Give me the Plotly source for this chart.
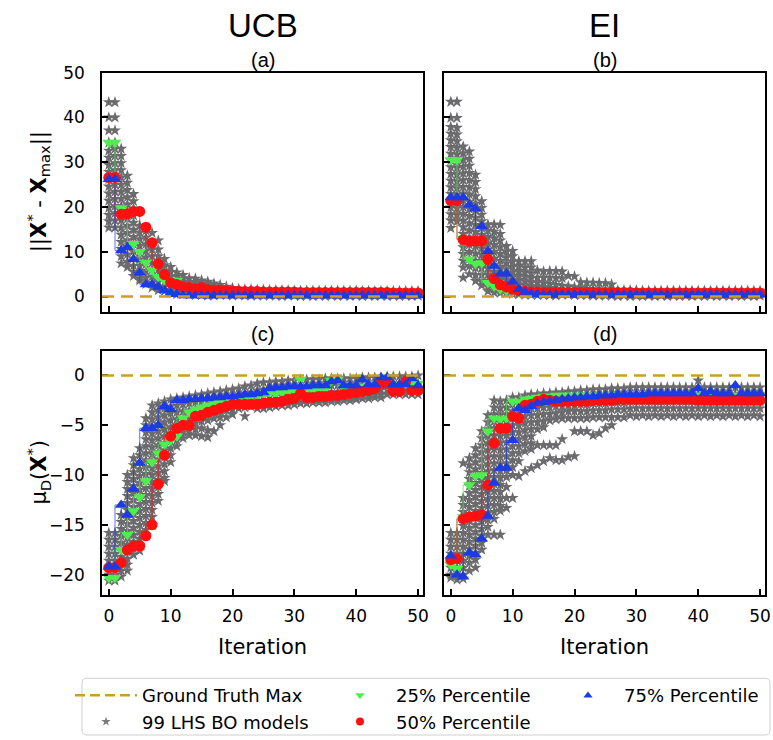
import plotly.graph_objects as go

# ---------------- data ----------------
ITERATIONS = list(range(51))
X_TICKS = [0, 10, 20, 30, 40, 50]
DIST_TICKS = [0, 10, 20, 30, 40, 50]
MU_TICKS = [0, -5, -10, -15, -20]
GROUND_TRUTH_DIST = 0.0
GROUND_TRUTH_MU = 0.0

# (a) UCB  ||X* - Xmax||
UCB_DIST_P25 = [34.4, 34.4, 19.8, 18.8, 11.8, 10.0, 7.6, 5.9, 4.4, 3.6, 3.6, 3.6, 2.4, 2.0, 1.6, 1.4, 1.2, 1.1, 1.0, 1.0,
                0.9, 0.9, 0.9, 0.9, 0.9, 0.9, 0.9, 0.9, 0.9, 0.9,
                0.8, 0.8, 0.8, 0.8, 0.8, 0.8, 0.8, 0.8, 0.8, 0.8,
                0.8, 0.8, 0.8, 0.8, 0.8, 0.8, 0.8, 0.8, 0.8, 0.8, 0.8]
UCB_DIST_P50 = [26.6, 26.6, 18.4, 18.5, 19.0, 19.0, 15.5, 12.0, 7.3, 4.9, 3.1, 2.7, 2.1, 2.0, 1.7, 2.0, 1.5, 1.4, 1.4, 1.3,
                1.2, 1.2, 1.1, 1.1, 1.1, 1.0, 1.0, 1.0, 1.0, 1.0,
                1.0, 0.9, 0.9, 0.9, 0.9, 0.9, 0.9, 0.9, 0.9, 0.9,
                0.9, 0.9, 0.9, 0.9, 0.9, 0.9, 0.8, 0.8, 0.8, 0.8, 0.8]
UCB_DIST_P75 = [26.2, 26.2, 10.3, 11.0, 8.3, 5.3, 2.7, 2.7, 2.1, 1.4, 0.8, 0.5, 0.2, 0.2, 0.2, 0.2, 0.2, 0.2, 0.2, 0.2,
                0.2, 0.2, 0.2, 0.2, 0.2, 0.2, 0.2, 0.2, 0.2, 0.2,
                0.2, 0.2, 0.2, 0.2, 0.2, 0.2, 0.2, 0.2, 0.2, 0.2,
                0.2, 0.2, 0.2, 0.2, 0.2, 0.2, 0.2, 0.2, 0.2, 0.2, 0.2]
UCB_DIST_MODELS = [
    [43.4, 40.0, 37.1, 34.4, 32.6, 31.0, 29.4, 27.8, 26.2, 24.6, 23.0, 21.4, 19.8, 18.2, 16.8, 15.4],
    [43.4, 40.0, 37.1, 34.4, 33.0, 31.4, 29.8, 28.2, 26.6, 25.0, 23.4, 21.8, 20.2, 18.6, 17.0, 15.4],
    [33.0, 31.4, 29.8, 28.2, 26.6, 25.0, 23.4, 21.8, 20.2, 18.6, 17.0, 15.4, 13.8, 12.2, 10.6, 9.0, 7.4],
    [27.0, 25.4, 23.8, 22.2, 20.6, 19.0, 17.4, 15.8, 14.2, 12.6, 11.0, 9.4, 7.8, 6.6],
    [22.9, 21.3, 19.7, 18.1, 16.5, 14.9, 13.3, 11.7, 10.1, 8.5, 6.9, 5.5, 4.6],
    [15.8, 14.3, 12.8, 11.3, 9.8, 8.3, 6.8, 5.3, 4.0, 3.6],
    [14.7, 13.2, 11.7, 10.2, 8.7, 7.2, 5.7, 4.2, 2.8],
    [14.2, 12.0, 10.5, 9.0, 7.5, 6.0, 4.5, 3.1, 2.0],
    [12.5, 10.5, 9.0, 7.5, 6.0, 4.6, 3.3, 2.1, 1.4],
    [8.4, 7.0, 5.7, 4.5, 3.3, 2.2, 1.2],
    [6.6, 5.5, 4.4, 3.4, 2.4, 1.5, 0.8],
    [5.4, 4.5, 3.6, 2.7, 1.8, 1.0, 0.5],
    [4.8, 3.9, 3.0, 2.1, 1.3, 0.6],
    [4.1, 3.3, 2.5, 1.7, 1.0, 0.4],
    [4.0, 3.2, 2.4, 1.6, 0.9, 0.3],
    [3.6, 2.8, 2.1, 1.4, 0.8, 0.3],
    [3.3, 2.6, 1.9, 1.2, 0.6, 0.2],
    [2.9, 2.3, 1.7, 1.1, 0.5, 0.2],
    [2.6, 2.0, 1.4, 0.9, 0.4],
    [2.2, 1.7, 1.2, 0.7, 0.3],
    [1.9, 1.4, 0.9, 0.5, 0.2],
    [1.7, 1.2, 0.7, 0.3],
    [1.6, 1.1, 0.6, 0.2],
    [1.6, 1.1, 0.6, 0.2],
    [1.5, 1.0, 0.6, 0.2],
    [1.5, 1.0, 0.5, 0.2],
    [1.4, 0.9, 0.5, 0.2],
    [1.4, 0.9, 0.4, 0.2],
    [1.4, 0.9, 0.4, 0.1],
    [1.4, 0.9, 0.4, 0.2],
    [1.3, 0.9, 0.4, 0.2],
    [1.3, 0.8, 0.4, 0.1],
    [1.3, 0.8, 0.4, 0.2],
    [1.3, 0.8, 0.4, 0.1],
    [1.3, 0.8, 0.4, 0.2],
    [1.3, 0.8, 0.4, 0.1],
    [1.3, 0.8, 0.4, 0.2],
    [1.3, 0.8, 0.4, 0.1],
    [1.3, 0.8, 0.4, 0.2],
    [1.3, 0.8, 0.4, 0.1],
    [1.3, 0.8, 0.4, 0.2],
    [1.2, 0.8, 0.4, 0.1],
    [1.2, 0.8, 0.4, 0.2],
    [1.2, 0.8, 0.4, 0.1],
    [1.2, 0.8, 0.4, 0.2],
    [1.2, 0.8, 0.4, 0.1],
    [1.2, 0.8, 0.4, 0.2],
    [1.2, 0.8, 0.4, 0.1],
    [1.2, 0.8, 0.4, 0.2],
    [1.2, 0.8, 0.4, 0.1],
    [1.2, 0.8, 0.4, 0.2],
]

# (b) EI  ||X* - Xmax||
EI_DIST_P25 = [30.5, 30.5, 12.9, 8.3, 7.3, 7.5, 3.1, 2.3, 1.6, 1.3, 1.1, 1.0, 0.9, 0.9, 0.9, 0.9, 0.9, 0.9, 0.9, 0.9,
               0.9, 0.9, 0.9, 0.9, 0.9, 0.9, 0.9, 0.9, 0.9, 0.9,
               0.8, 0.8, 0.8, 0.8, 0.8, 0.8, 0.8, 0.8, 0.8, 0.8,
               0.8, 0.8, 0.8, 0.8, 0.8, 0.8, 0.8, 0.8, 0.8, 0.8, 0.8]
EI_DIST_P50 = [21.4, 21.4, 12.7, 12.4, 12.4, 12.4, 8.3, 4.0, 2.6, 2.1, 1.6, 1.3, 1.1, 1.0, 1.0, 0.9, 0.9, 0.9, 0.9, 0.9,
               0.9, 0.9, 0.9, 0.9, 0.9, 0.9, 0.9, 0.9, 0.9, 0.9,
               0.8, 0.8, 0.8, 0.8, 0.8, 0.8, 0.8, 0.8, 0.8, 0.8,
               0.8, 0.8, 0.8, 0.8, 0.8, 0.8, 0.8, 0.8, 0.8, 0.8, 0.8]
EI_DIST_P75 = [22.1, 22.1, 22.1, 20.5, 19.6, 15.7, 10.1, 6.8, 5.1, 5.1, 3.3, 1.6, 1.0, 0.6, 0.5, 0.4, 0.4, 0.4, 0.4, 0.4,
               0.4, 0.4, 0.4, 0.4, 0.4, 0.4, 0.4, 0.4, 0.4, 0.4,
               0.4, 0.4, 0.4, 0.4, 0.4, 0.4, 0.4, 0.4, 0.4, 0.4,
               0.4, 0.4, 0.4, 0.4, 0.4, 0.4, 0.4, 0.4, 0.4, 0.4, 0.4]
EI_DIST_MODELS = [
    [43.5, 39.9, 37.9, 36.4, 34.9, 33.4, 31.9, 30.4, 28.9, 27.4, 25.9, 24.4, 22.9, 21.4, 19.9, 18.4, 17.0, 15.3],
    [43.5, 39.9, 37.7, 36.2, 34.7, 33.2, 31.7, 30.2, 28.7, 27.2, 25.7, 24.2, 22.7, 21.2, 19.7, 18.2, 16.8],
    [33.5, 32.0, 30.5, 29.0, 27.5, 26.0, 24.5, 23.0, 21.5, 20.0, 18.5, 17.0, 15.5, 14.0, 12.5, 11.0, 9.5, 8.0, 6.5, 4.2],
    [32.4, 30.8, 29.2, 27.6, 26.0, 24.4, 22.8, 21.2, 19.6, 18.0, 16.4, 14.8, 13.2, 11.6, 10.0, 8.4, 6.8, 5.0],
    [27.2, 25.6, 24.0, 22.4, 20.8, 19.2, 17.6, 16.0, 14.4, 12.8, 11.2, 9.6, 8.0, 6.4, 4.8, 3.5],
    [21.3, 19.8, 18.3, 16.8, 15.3, 13.8, 12.3, 10.8, 9.3, 7.8, 6.3, 4.8, 3.3, 2.5],
    [16.1, 14.7, 13.3, 11.9, 10.5, 9.1, 7.7, 6.3, 4.9, 3.5, 2.2, 1.2],
    [16.1, 14.5, 13.0, 11.5, 10.0, 8.5, 7.0, 5.6, 4.2, 2.9, 1.8, 0.9],
    [16.0, 14.0, 12.5, 11.0, 9.5, 8.0, 6.6, 5.2, 3.9, 2.7, 1.6, 0.8],
    [11.3, 10.0, 8.7, 7.4, 6.1, 4.9, 3.7, 2.6, 1.6, 0.8],
    [10.2, 9.0, 7.8, 6.6, 5.4, 4.3, 3.2, 2.2, 1.3, 0.6],
    [7.9, 6.8, 5.7, 4.7, 3.7, 2.7, 1.8, 1.0, 0.5],
    [7.9, 6.5, 5.4, 4.4, 3.4, 2.5, 1.6, 0.9, 0.4],
    [7.9, 6.5, 5.2, 4.1, 3.1, 2.2, 1.4, 0.8, 0.4],
    [5.8, 4.2, 3.2, 2.3, 1.5, 0.8, 0.3],
    [5.6, 4.2, 3.0, 2.1, 1.3, 0.7, 0.3],
    [5.7, 4.2, 2.8, 1.9, 1.2, 0.6, 0.3],
    [5.7, 4.1, 2.6, 1.7, 1.0, 0.5, 0.2],
    [5.6, 4.1, 2.4, 1.5, 0.9, 0.4],
    [4.6, 2.3, 1.4, 0.8, 0.4],
    [4.5, 2.1, 1.3, 0.7, 0.3],
    [3.2, 1.9, 1.2, 0.6, 0.3],
    [3.1, 1.7, 1.1, 0.6, 0.3],
    [3.1, 1.6, 1.0, 0.5, 0.2],
    [3.0, 1.5, 0.9, 0.4, 0.2],
    [3.0, 1.4, 0.9, 0.4, 0.2],
    [2.7, 1.3, 0.8, 0.4, 0.2],
    [1.4, 0.9, 0.4, 0.1],
    [1.4, 0.9, 0.4, 0.2],
    [1.4, 0.9, 0.4, 0.1],
    [1.4, 0.9, 0.4, 0.2],
    [1.3, 0.9, 0.4, 0.1],
    [1.3, 0.8, 0.4, 0.2],
    [1.3, 0.8, 0.4, 0.1],
    [1.3, 0.8, 0.4, 0.2],
    [1.3, 0.8, 0.4, 0.1],
    [1.3, 0.8, 0.4, 0.2],
    [1.3, 0.8, 0.4, 0.1],
    [1.3, 0.8, 0.4, 0.2],
    [1.3, 0.8, 0.4, 0.1],
    [1.3, 0.8, 0.4, 0.2],
    [1.3, 0.8, 0.4, 0.1],
    [1.3, 0.8, 0.4, 0.2],
    [1.3, 0.8, 0.4, 0.1],
    [1.3, 0.8, 0.4, 0.2],
    [1.3, 0.8, 0.4, 0.1],
    [1.3, 0.8, 0.4, 0.2],
    [1.3, 0.8, 0.4, 0.1],
    [1.3, 0.8, 0.4, 0.2],
    [1.3, 0.8, 0.4, 0.1],
    [1.3, 0.8, 0.4, 0.2],
]

# (c) UCB  mu_D(X*)
UCB_MU_P25 = [-20.3, -20.3, -17.5, -16.0, -13.6, -12.2, -10.6, -8.7, -7.8, -6.9, -6.5, -6.1, -4.3, -3.7, -3.4, -3.2, -3.0, -2.8, -2.7, -2.6,
              -2.4, -2.3, -2.2, -2.1, -2.0, -1.9, -1.8, -1.8, -1.7, -1.6,
              -1.5, -0.4, -1.4, -1.4, -1.3, -1.3, -0.5, -0.4, -1.2, -1.2,
              -1.1, -1.1, -1.0, -0.8, -0.8, -0.9, -1.0, -0.9, -0.8, -0.8, -0.8]
UCB_MU_P50 = [-19.3, -19.3, -18.8, -17.5, -17.1, -17.1, -16.1, -15.0, -10.9, -8.0, -6.1, -5.3, -5.0, -5.0, -4.1, -4.0, -3.7, -3.5, -3.3, -3.1,
              -2.9, -2.9, -2.9, -2.9, -2.9, -2.8, -2.7, -2.7, -2.6, -2.4,
              -2.3, -1.8, -2.2, -2.2, -2.1, -2.1, -2.0, -2.0, -1.9, -1.8,
              -1.7, -1.6, -1.5, -1.3, -0.8, -0.8, -1.6, -1.6, -0.6, -1.5, -1.5]
UCB_MU_P75 = [-19.2, -19.2, -13.0, -14.0, -11.4, -8.8, -5.3, -5.3, -5.0, -3.1, -3.4, -2.5, -2.5, -2.4, -2.4, -2.3, -2.3, -2.2, -2.2, -2.1,
              -2.1, -2.0, -1.9, -1.9, -1.8, -1.7, -1.3, -1.2, -1.2, -1.1,
              -1.1, -1.1, -1.1, -1.0, -1.0, -1.0, -0.6, -0.5, -1.0, -1.0,
              -1.0, -0.4, -0.9, -0.9, -0.2, -0.2, -0.9, -0.9, -0.9, -0.3, -1.0]
UCB_MU_MODELS = [
    [-15.8, -16.5, -17.2, -17.9, -18.6, -19.3, -20.0, -20.6],
    [-15.8, -16.5, -17.2, -17.9, -18.6, -19.3, -20.0, -20.6],
    [-14.0, -14.7, -15.4, -16.1, -16.8, -17.5, -18.2, -18.9, -19.6, -20.2],
    [-10.0, -10.7, -11.4, -12.1, -12.8, -13.5, -14.2, -14.9, -15.6, -16.3, -17.0, -17.7, -18.4, -19.0, -19.6],
    [-8.3, -9.0, -9.7, -10.4, -11.1, -11.8, -12.5, -13.2, -13.9, -14.6, -15.3, -16.0, -16.7, -17.4, -18.0],
    [-7.3, -8.0, -8.7, -9.4, -10.1, -10.8, -11.5, -12.2, -12.9, -13.6, -14.3, -15.0, -15.7, -16.4, -17.0, -17.6],
    [-4.3, -5.0, -5.7, -6.4, -7.1, -7.8, -8.5, -9.2, -9.9, -10.6, -11.3, -12.0, -12.7, -13.4, -14.1, -14.8, -15.5, -16.0],
    [-3.0, -3.7, -4.4, -5.1, -5.8, -6.5, -7.2, -7.9, -8.6, -9.3, -10.0, -10.7, -11.4, -12.1, -12.8, -13.5, -14.2, -15.0],
    [-2.8, -3.5, -4.2, -4.9, -5.6, -6.3, -7.0, -7.7, -8.4, -9.1, -9.8, -10.5, -11.2, -11.9, -12.6],
    [-2.6, -3.3, -4.0, -4.7, -5.4, -6.1, -6.8, -7.5, -8.2, -8.9, -9.6, -10.3, -10.6],
    [-2.4, -3.1, -3.8, -4.5, -5.2, -5.9, -6.6, -7.3, -8.0, -8.7],
    [-2.3, -3.0, -3.7, -4.4, -5.1, -5.8, -6.5, -7.1],
    [-2.2, -2.9, -3.6, -4.3, -5.0, -5.7, -6.3],
    [-2.1, -2.8, -3.5, -4.2, -4.9, -5.5, -6.0],
    [-2.0, -2.7, -3.4, -4.1, -4.8, -5.4, -6.0],
    [-1.9, -2.6, -3.3, -4.0, -4.6, -5.3, -6.1],
    [-1.8, -2.5, -3.2, -3.9, -4.5, -5.5, -6.2],
    [-1.7, -2.4, -3.1, -3.7, -4.3, -5.6],
    [-1.6, -2.3, -3.0, -3.6, -4.2, -5.0],
    [-1.5, -2.2, -2.9, -3.5, -4.2],
    [-1.4, -2.1, -2.8, -3.4, -3.9],
    [-1.3, -2.0, -2.7, -3.3],
    [-1.1, -1.8, -2.5, -3.2, -4.1],
    [-1.0, -1.7, -2.4, -3.1],
    [-0.8, -1.5, -2.2, -2.9, -3.3],
    [-0.7, -1.4, -2.1, -2.8, -3.3],
    [-0.7, -1.4, -2.1, -2.8, -3.2],
    [-0.6, -1.3, -2.0, -2.7, -3.1],
    [-0.6, -1.3, -2.0, -2.6, -3.0],
    [-0.5, -1.2, -1.9, -2.5, -3.0],
    [-0.5, -1.2, -1.9, -2.5, -2.9],
    [-0.4, -1.1, -1.8, -2.4, -2.8],
    [-0.4, -1.1, -1.8, -2.4, -2.8],
    [-0.4, -1.1, -1.8, -2.4, -2.7],
    [-0.4, -1.1, -1.8, -2.4, -2.7],
    [-0.3, -1.0, -1.7, -2.3, -2.7],
    [-0.3, -1.0, -1.7, -2.3, -2.6],
    [-0.3, -1.0, -1.7, -2.3, -2.6],
    [-0.3, -1.0, -1.6, -2.2, -2.5],
    [-0.3, -1.0, -1.6, -2.2, -2.5],
    [-0.3, -0.9, -1.6, -2.2, -2.4],
    [-0.2, -0.9, -1.5, -2.0, -2.3],
    [-0.2, -0.9, -1.5, -2.0, -2.3],
    [-0.2, -0.8, -1.4, -1.9, -2.2],
    [-0.2, -0.8, -1.4, -1.9, -2.2],
    [-0.1, -0.8, -1.4, -1.9],
    [-0.1, -0.8, -1.4, -1.9],
    [-0.1, -0.8, -1.4, -1.9],
    [-0.1, -0.8, -1.4, -1.9],
    [-0.1, -0.8, -1.4, -1.9],
    [0.0, -0.8, -1.4, -1.9],
]

# (d) EI  mu_D(X*)
EI_MU_P25 = [-19.0, -19.4, -14.2, -11.0, -10.1, -10.0, -5.6, -4.3, -4.4, -4.3, -2.6, -2.7, -2.4, -2.3, -2.2, -2.1, -2.1, -2.0, -2.0, -2.0,
             -2.0, -2.0, -2.0, -2.0, -2.0, -2.0, -2.0, -2.0, -2.0, -2.0,
             -2.0, -2.0, -2.0, -2.0, -2.0, -2.0, -2.0, -2.0, -2.0, -2.0,
             -2.0, -2.0, -2.0, -2.0, -2.0, -2.0, -2.0, -2.0, -2.0, -2.0, -2.0]
EI_MU_P50 = [-18.5, -18.4, -14.4, -14.2, -14.1, -14.0, -11.0, -6.8, -5.3, -5.3, -4.1, -4.3, -3.0, -2.9, -2.6, -2.4, -2.5, -2.6, -2.6, -2.6,
             -2.6, -2.6, -2.6, -2.5, -2.5, -2.5, -2.5, -2.4, -2.4, -2.4,
             -2.4, -2.4, -2.4, -2.4, -2.4, -2.4, -2.4, -2.4, -2.4, -2.4,
             -2.5, -2.5, -2.5, -2.5, -2.5, -2.5, -2.5, -2.5, -2.5, -2.5, -2.5]
EI_MU_P75 = [-18.1, -20.0, -20.2, -17.8, -18.0, -16.4, -14.1, -10.8, -9.3, -9.3, -6.5, -3.3, -3.5, -3.1, -2.8, -2.7, -2.6, -2.5, -2.4, -2.3,
             -2.2, -2.2, -2.1, -2.1, -2.0, -2.0, -2.0, -1.9, -1.9, -1.9,
             -1.9, -1.9, -1.8, -1.8, -1.8, -1.8, -1.8, -1.8, -1.8, -1.8,
             -1.3, -1.8, -1.6, -1.8, -1.8, -1.8, -1.0, -1.8, -1.8, -1.8, -1.8]
EI_MU_MODELS = [
    [-15.8, -16.5, -17.2, -17.9, -18.6, -19.3, -20.0, -20.3],
    [-15.8, -16.5, -17.2, -17.9, -18.6, -19.3, -20.0, -20.5],
    [-8.8, -12.3, -13.0, -13.7, -14.4, -15.1, -15.8, -16.5, -17.2, -17.9, -18.6, -19.3, -20.0, -20.4],
    [-8.3, -9.0, -9.7, -10.4, -11.1, -11.8, -12.5, -13.2, -13.9, -14.6, -15.3, -16.0, -16.7, -17.4, -18.1, -18.8, -19.6],
    [-7.3, -8.0, -8.7, -9.4, -10.1, -10.8, -11.5, -12.2, -12.9, -13.6, -14.3, -15.0, -15.7, -16.4, -17.1, -17.8, -18.5, -19.3],
    [-5.6, -6.3, -7.0, -7.7, -8.4, -9.1, -9.8, -10.5, -11.2, -11.9, -12.6, -13.3, -14.0, -14.7, -15.4, -16.1, -16.8, -17.5],
    [-4.0, -4.7, -5.4, -6.1, -6.8, -7.5, -8.2, -8.9, -9.6, -10.3, -11.0, -11.7, -12.4, -13.1, -13.8, -14.5, -15.2, -16.0],
    [-2.5, -3.2, -3.9, -4.6, -5.3, -6.0, -6.7, -7.4, -8.1, -8.8, -9.5, -10.2, -10.9, -11.6, -12.3, -13.0, -13.7, -14.4, -16.0],
    [-2.6, -3.3, -4.0, -4.7, -5.4, -6.1, -6.8, -7.5, -8.2, -8.9, -9.6, -10.3, -11.0, -11.7, -12.4, -13.1, -13.6, -16.0],
    [-2.5, -3.2, -3.9, -4.6, -5.3, -6.0, -6.7, -7.4, -8.1, -8.8, -9.5, -10.2, -11.2, -12.3, -13.3],
    [-2.2, -2.9, -3.6, -4.3, -5.0, -5.7, -6.4, -7.1, -7.8, -8.5, -9.2, -10.0, -12.3],
    [-2.2, -2.9, -3.6, -4.3, -5.0, -5.7, -6.4, -7.1, -7.8, -8.6, -10.1],
    [-2.0, -2.7, -3.4, -4.1, -4.8, -5.5, -6.2, -6.9, -7.6, -9.6],
    [-1.9, -2.6, -3.3, -4.0, -4.7, -5.4, -6.1, -6.8, -7.4, -9.3],
    [-1.9, -2.6, -3.3, -4.0, -4.7, -5.4, -7.0, -9.0],
    [-1.8, -2.5, -3.2, -3.9, -4.6, -5.2, -7.0, -8.6],
    [-1.8, -2.5, -3.2, -3.9, -4.5, -7.0, -8.3],
    [-1.7, -2.4, -3.1, -3.8, -4.4, -7.0, -8.5],
    [-1.7, -2.4, -3.1, -3.7, -4.3, -6.4, -8.5],
    [-1.6, -2.3, -3.0, -3.6, -4.3, -8.2],
    [-1.6, -2.3, -3.0, -3.6, -4.3, -5.6, -8.1],
    [-1.5, -2.2, -2.9, -3.6, -4.3, -5.6],
    [-1.5, -2.2, -2.9, -3.6, -4.3, -5.6],
    [-1.4, -2.1, -2.8, -3.5, -4.2, -6.0],
    [-1.4, -2.1, -2.8, -3.5, -4.2, -5.8],
    [-1.4, -2.1, -2.8, -3.5, -4.2, -5.3],
    [-1.3, -2.0, -2.7, -3.4, -4.2, -5.0],
    [-1.3, -2.0, -2.7, -3.4, -4.2],
    [-1.3, -2.0, -2.7, -3.4, -4.2],
    [-1.2, -1.9, -2.6, -3.3, -4.0],
    [-1.2, -1.9, -2.6, -3.3, -4.1],
    [-1.2, -1.9, -2.6, -3.3, -4.0],
    [-1.2, -1.9, -2.6, -3.3, -4.1],
    [-1.2, -1.9, -2.6, -3.3, -4.0],
    [-1.2, -1.9, -2.6, -3.3, -4.1],
    [-1.2, -1.9, -2.6, -3.3, -4.0],
    [-1.2, -1.9, -2.6, -3.3, -4.1],
    [-1.2, -1.9, -2.6, -3.3, -4.0],
    [-1.2, -1.9, -2.6, -3.3, -4.1],
    [-1.2, -1.9, -2.6, -3.3, -4.0],
    [-0.5, -1.2, -1.9, -2.6, -3.3, -4.1],
    [-1.2, -1.9, -2.6, -3.3, -4.0],
    [-1.2, -1.9, -2.6, -3.3, -4.1],
    [-1.2, -1.9, -2.6, -3.3, -4.0],
    [-1.2, -1.9, -2.6, -3.3, -4.1],
    [-1.2, -1.9, -2.6, -3.3, -4.0],
    [-1.2, -1.9, -2.6, -3.3, -4.1],
    [-1.2, -1.9, -2.6, -3.3, -4.0],
    [-1.2, -1.9, -2.6, -3.3, -4.1],
    [-1.2, -1.9, -2.6, -3.3, -4.0],
    [-1.2, -1.9, -2.6, -3.3, -4.1],
]

LEGEND_NAMES = ["Ground Truth Max", "99 LHS BO models", "25% Percentile", "50% Percentile", "75% Percentile"]

# ---------------- styles ----------------
W, H = 773, 740
COL_STAR = "#6b6b6e"
COL_P25 = "#4cf04c"
COL_P50 = "#ff1010"
COL_P75 = "#1d3be2"
COL_GT = "#cb9f25"
TICK_FONT = dict(family="DejaVu Sans", size=17, color="black")


def px_x(p):
    return p / W


def px_y(p):
    return 1 - p / H


X_LEFT = [px_x(102), px_x(423)]
X_RIGHT = [px_x(444), px_x(765)]
Y_TOP = [px_y(313), px_y(73)]
Y_BOT = [px_y(597), px_y(352)]

fig = go.Figure()

panels = [
    ("x", "y", UCB_DIST_MODELS, UCB_DIST_P25, UCB_DIST_P50, UCB_DIST_P75, GROUND_TRUTH_DIST),
    ("x2", "y2", EI_DIST_MODELS, EI_DIST_P25, EI_DIST_P50, EI_DIST_P75, GROUND_TRUTH_DIST),
    ("x3", "y3", UCB_MU_MODELS, UCB_MU_P25, UCB_MU_P50, UCB_MU_P75, GROUND_TRUTH_MU),
    ("x4", "y4", EI_MU_MODELS, EI_MU_P25, EI_MU_P50, EI_MU_P75, GROUND_TRUTH_MU),
]

for xa, ya, models, p25, p50, p75, gt in panels:
    sx, sy = [], []
    for it, vals in zip(ITERATIONS, models):
        for v in vals:
            sx.append(it)
            sy.append(v)
    fig.add_trace(go.Scatter(x=sx, y=sy, mode="markers", xaxis=xa, yaxis=ya, showlegend=False,
                             marker=dict(symbol="star", size=9, color=COL_STAR, line=dict(width=0)),
                             hoverinfo="skip"))
    series = [(p25, COL_P25, "triangle-down", 11), (p50, COL_P50, "circle", 11), (p75, COL_P75, "triangle-up", 11)]
    for vals, col, sym, sz in series:
        fig.add_trace(go.Scatter(x=ITERATIONS, y=vals, mode="lines", xaxis=xa, yaxis=ya, showlegend=False,
                                 line=dict(shape="vh", width=1, color=col), opacity=0.7, hoverinfo="skip"))
    for vals, col, sym, sz in series:
        fig.add_trace(go.Scatter(x=ITERATIONS, y=vals, mode="markers", xaxis=xa, yaxis=ya, showlegend=False,
                                 marker=dict(symbol=sym, size=sz, color=col, line=dict(width=0))))
    fig.add_shape(type="line", xref=f"{xa} domain", yref=ya, x0=0, x1=1, y0=gt, y1=gt,
                  line=dict(color=COL_GT, width=2.5, dash="12px,7px"), layer="above")

# legend-only traces
fig.add_trace(go.Scatter(x=[None], y=[None], mode="lines", name=LEGEND_NAMES[0], legend="legend",
                         line=dict(color=COL_GT, width=2.5, dash="10px,5px")))
fig.add_trace(go.Scatter(x=[None], y=[None], mode="markers", name=LEGEND_NAMES[1], legend="legend",
                         marker=dict(symbol="star", size=7, color="#7a7a7a")))
fig.add_trace(go.Scatter(x=[None], y=[None], mode="markers", name=LEGEND_NAMES[2], legend="legend2",
                         marker=dict(symbol="triangle-down", size=8, color=COL_P25)))
fig.add_trace(go.Scatter(x=[None], y=[None], mode="markers", name=LEGEND_NAMES[3], legend="legend2",
                         marker=dict(symbol="circle", size=8, color=COL_P50)))
fig.add_trace(go.Scatter(x=[None], y=[None], mode="markers", name=LEGEND_NAMES[4], legend="legend3",
                         marker=dict(symbol="triangle-up", size=8, color=COL_P75)))

axis_common = dict(showline=True, linecolor="black", linewidth=1.6, mirror=True, ticks="inside",
                   ticklen=6, tickwidth=1.5, tickcolor="black", showgrid=False, zeroline=False,
                   tickfont=TICK_FONT, automargin=False)

fig.update_layout(
    xaxis=dict(domain=X_LEFT, range=[-1.1, 50.8], tickvals=X_TICKS, showticklabels=False, anchor="y", **axis_common),
    yaxis=dict(domain=Y_TOP, range=[-3.4, 50.0], tickvals=DIST_TICKS, anchor="x", ticklabelstandoff=12, **axis_common),
    xaxis2=dict(domain=X_RIGHT, range=[-1.1, 50.8], tickvals=X_TICKS, showticklabels=False, anchor="y2", **axis_common),
    yaxis2=dict(domain=Y_TOP, range=[-3.4, 50.0], tickvals=DIST_TICKS, showticklabels=False, anchor="x2", **axis_common),
    xaxis3=dict(domain=X_LEFT, range=[-1.1, 50.8], tickvals=X_TICKS, anchor="y3", ticklabelstandoff=5, **axis_common),
    yaxis3=dict(domain=Y_BOT, range=[-22.0, 2.5], tickvals=MU_TICKS, anchor="x3", ticklabelstandoff=12, **axis_common),
    xaxis4=dict(domain=X_RIGHT, range=[-1.1, 50.8], tickvals=X_TICKS, anchor="y4", ticklabelstandoff=5, **axis_common),
    yaxis4=dict(domain=Y_BOT, range=[-22.0, 2.5], tickvals=MU_TICKS, showticklabels=False, anchor="x4", **axis_common),
    width=W, height=H,
    margin=dict(l=0, r=0, t=0, b=0),
    paper_bgcolor="white", plot_bgcolor="white",
    showlegend=True,
    legend=dict(x=px_x(70), y=px_y(680), xanchor="left", yanchor="top", itemwidth=62, bgcolor="rgba(0,0,0,0)",
                font=dict(family="DejaVu Sans", size=18, color="black"), tracegroupgap=0),
    legend2=dict(x=px_x(324), y=px_y(680), xanchor="left", yanchor="top", itemwidth=62, bgcolor="rgba(0,0,0,0)",
                 font=dict(family="DejaVu Sans", size=18, color="black"), tracegroupgap=0),
    legend3=dict(x=px_x(552), y=px_y(680), xanchor="left", yanchor="top", itemwidth=62, bgcolor="rgba(0,0,0,0)",
                 font=dict(family="DejaVu Sans", size=18, color="black"), tracegroupgap=0),
)

# column / panel titles
title_font = dict(family="Liberation Sans", color="black")
annos = [
    dict(text="UCB", x=(X_LEFT[0] + X_LEFT[1]) / 2, y=px_y(26), font=dict(size=33, **title_font)),
    dict(text="EI", x=(X_RIGHT[0] + X_RIGHT[1]) / 2, y=px_y(26), font=dict(size=33, **title_font)),
    dict(text="(a)", x=(X_LEFT[0] + X_LEFT[1]) / 2, y=px_y(60), font=dict(size=20, **title_font)),
    dict(text="(b)", x=(X_RIGHT[0] + X_RIGHT[1]) / 2, y=px_y(60), font=dict(size=20, **title_font)),
    dict(text="(c)", x=(X_LEFT[0] + X_LEFT[1]) / 2, y=px_y(335), font=dict(size=20, **title_font)),
    dict(text="(d)", x=(X_RIGHT[0] + X_RIGHT[1]) / 2, y=px_y(335), font=dict(size=20, **title_font)),
    dict(text="Iteration", x=(X_LEFT[0] + X_LEFT[1]) / 2, y=px_y(650),
         font=dict(family="DejaVu Sans", size=21, color="black")),
    dict(text="Iteration", x=(X_RIGHT[0] + X_RIGHT[1]) / 2, y=px_y(650),
         font=dict(family="DejaVu Sans", size=21, color="black")),
    dict(text="||<b>X</b><sup>*</sup> - <b>X</b><sub>max</sub>||", x=px_x(38), y=(Y_TOP[0] + Y_TOP[1]) / 2,
         textangle=-90, font=dict(family="DejaVu Sans", size=21, color="black")),
    dict(text="μ<sub>D</sub>(<b>X</b><sup>*</sup>)", x=px_x(38), y=(Y_BOT[0] + Y_BOT[1]) / 2,
         textangle=-90, font=dict(family="DejaVu Sans", size=21, color="black")),
]
for a in annos:
    fig.add_annotation(xref="paper", yref="paper", showarrow=False, xanchor="center", yanchor="middle", **a)

# rounded legend frame
bx0, bx1, by0, by1, r = 82, 770, 681, 738, 5


def P(xp, yp):
    return f"{px_x(xp):.5f},{px_y(yp):.5f}"


frame = (f"M {P(bx0 + r, by0)} L {P(bx1 - r, by0)} Q {P(bx1, by0)} {P(bx1, by0 + r)} "
         f"L {P(bx1, by1 - r)} Q {P(bx1, by1)} {P(bx1 - r, by1)} "
         f"L {P(bx0 + r, by1)} Q {P(bx0, by1)} {P(bx0, by1 - r)} "
         f"L {P(bx0, by0 + r)} Q {P(bx0, by0)} {P(bx0 + r, by0)} Z")
fig.add_shape(type="path", xref="paper", yref="paper", path=frame,
              line=dict(color="#d0d0d0", width=1), fillcolor="rgba(255,255,255,0)", layer="below")

fig.write_html("out.html")
